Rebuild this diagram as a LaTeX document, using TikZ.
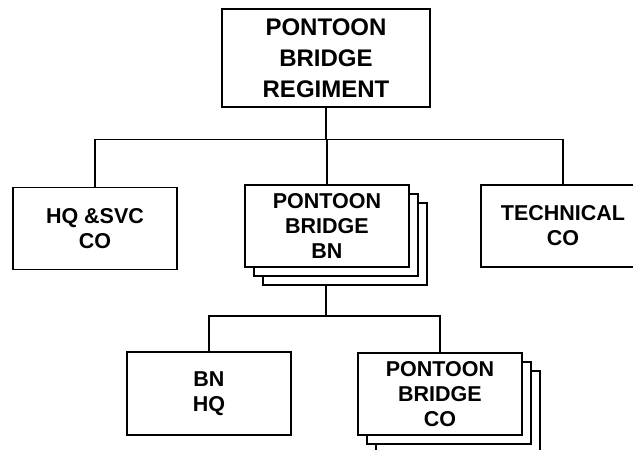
\documentclass[tikz,border=0pt]{standalone}
\usepackage{fontspec}
\setmainfont{Liberation Sans}
\begin{document}
\begin{tikzpicture}[x=1pt, y=-1pt]
        \tikzset{
            unit/.style={draw, line width=1.8pt, fill=white, minimum width=164pt, minimum height=82pt, inner sep=0pt, align=center, font=\bfseries\fontsize{21.5}{25}\selectfont},
            link/.style={line width=1.8pt}
        }
        \useasboundingbox (0, 0) rectangle (633, 450);
        \clip (0, 0) rectangle (633, 450);
        
        \node[unit, minimum width=208pt, minimum height=98pt, font=\bfseries\fontsize{24}{31}\selectfont] (regt) at (326, 58) {PONTOON\\BRIDGE\\REGIMENT};
        \node[unit] (hqsvc) at (95, 228.5) {HQ \&SVC\\CO};
        \node[unit] (bnc) at (345, 244) {};
        \node[unit] (bnb) at (336, 235) {};
        \node[unit] (bn) at (327, 226) {PONTOON\\BRIDGE\\BN};
        \node[unit] (tech) at (563, 226) {TECHNICAL\\CO};
        \node[unit, minimum height=83pt] (bnhq) at (209, 393.5) {BN\\HQ};
        \node[unit] (coc) at (458, 412) {};
        \node[unit] (cob) at (449, 403) {};
        \node[unit] (co) at (440, 394) {PONTOON\\BRIDGE\\CO};
        
        \coordinate (busa) at (326, 139.5);
        \coordinate (busb) at (326, 316);
        
        \draw[link] (regt.south) -- (busa);
        \draw[link] (busa) -| (hqsvc.north);
        \draw[link] (busa) -| (bn.north);
        \draw[link] (busa) -| (tech.north);
        \draw[link] (bnc.south -| busb) -- (busb);
        \draw[link] (busb) -| (bnhq.north);
        \draw[link] (busb) -| (co.north);
    \end{tikzpicture}
\end{document}
